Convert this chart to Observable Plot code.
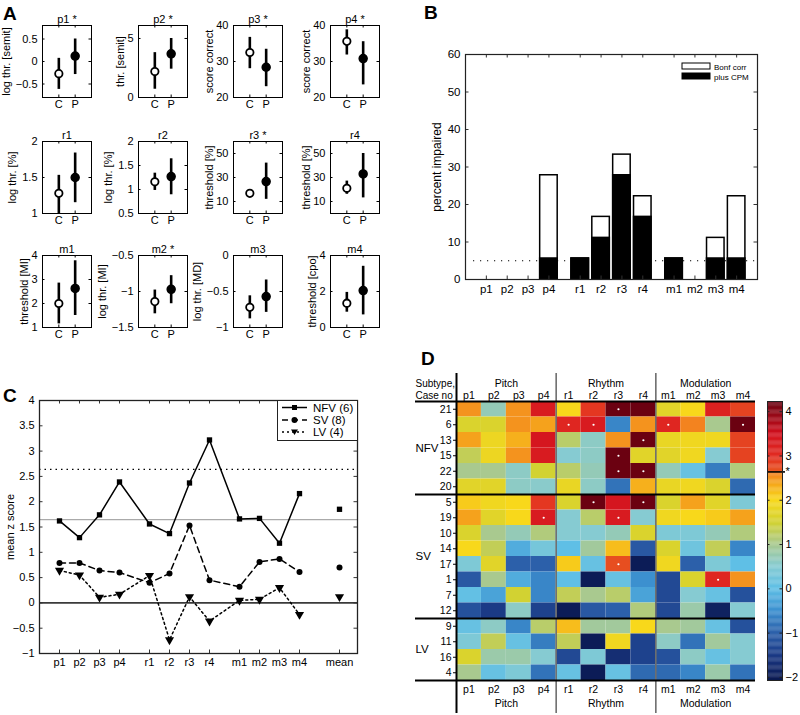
<!DOCTYPE html>
<html><head><meta charset="utf-8">
<script src="https://cdn.jsdelivr.net/npm/d3@7"></script>
<script src="https://cdn.jsdelivr.net/npm/@observablehq/plot@0.6"></script>
<style>
body{margin:0;background:#fff;}
#root{position:relative;width:800px;height:715px;overflow:hidden;background:#fff;font-family:"Liberation Sans",Arial,Helvetica,sans-serif;color:#000;}
.letter{position:absolute;font-weight:bold;font-size:19px;line-height:1;}
</style></head><body><div id="root"></div>
<script>
// ---------------- DATA ----------------
// Panel A
const aTitles = ["p1 *","p2 *","p3 *","p4 *","r1","r2","r3 *","r4","m1","m2 *","m3","m4"];
const aYLabels = ["log thr. [semit]","thr. [semit]","score correct","score correct","log thr. [%]","log thr. [%]","threshold [%]","threshold [%]","threshold [MI]","log thr. [MI]","log thr. [MD]","threshold [cpo]"];
const aDomains = [[-0.8,0.8],[0,6.1],[20,40],[20,40],[1,2],[0.5,2],[0,60],[0,60],[1,4],[-1.5,-0.5],[-1,0],[0,4]];
const aTicks = [[-0.5,0,0.5],[0,5],[20,30,40],[20,30,40],[1,1.5,2],[0.5,1,1.5,2],[10,30,50],[10,30,50],[1,2,3,4],[-1.5,-1,-0.5],[-1,-0.5,0],[0,2,4]];
const aCtrlMean = [-0.27, 2.2, 32.5, 35.6, 1.28, 1.16, 16.8, 21, 2.0, -1.14, -0.72, 1.35];
const aCtrlLo   = [-0.62, 0.7, 28.0, 31.8, 1.0, 0.98, 14.0, 16, 1.15, -1.31, -0.88, 0.85];
const aCtrlHi   = [0.07, 3.8, 36.7, 38.8, 1.53, 1.34, 18.8, 27, 2.85, -0.98, -0.56, 1.95];
const aPatMean  = [0.12, 3.7, 28.4, 30.8, 1.5, 1.27, 26.6, 33, 2.63, -0.97, -0.57, 2.05];
const aPatLo    = [-0.29, 2.4, 23.0, 23.5, 1.15, 0.89, 11.8, 13, 1.5, -1.17, -0.79, 0.7];
const aPatHi    = [0.5, 5.0, 33.4, 35.5, 1.84, 1.64, 42, 50, 3.78, -0.78, -0.34, 3.4];
const aGroupLabels = ["C","P"];

// Panel B
const bCats = ["p1","p2","p3","p4","r1","r2","r3","r4","m1","m2","m3","m4"];
const bBonf = [0,0,0,27.8,5.6,16.7,33.3,22.2,5.6,0,11.1,22.2];
const bCPM  = [0,0,0,5.6,5.6,11.1,27.8,16.7,5.6,0,5.6,5.6];
const bTicks = [0,10,20,30,40,50,60];
const bChance = 5;
const bLegend = ["Bonf corr","plus CPM"];

// Panel C
const cCats = ["p1","p2","p3","p4","r1","r2","r3","r4","m1","m2","m3","m4"];
const cNFV = [1.62,1.29,1.74,2.39,1.56,1.37,2.37,3.22,1.66,1.67,1.18,2.16];
const cSV  = [0.79,0.79,0.64,0.60,0.40,0.58,1.53,0.45,0.32,0.81,0.87,0.61];
const cLV  = [0.64,0.55,0.11,0.17,0.54,-0.73,0.12,-0.36,0.05,0.07,0.30,-0.23];
const cMeans = [1.85, 0.70, 0.12];
const cSeries = ["NFV (6)","SV (8)","LV (4)"];
const cTicks = [-1,-0.5,0,0.5,1,1.5,2,2.5,3,3.5,4];
const cRefLines = [1.645, 2.64];

// Panel D
const dCols = ["p1","p2","p3","p4","r1","r2","r3","r4","m1","m2","m3","m4"];
const dGroups = ["Pitch","Rhythm","Modulation"];
const dSubtypes = ["NFV","SV","LV"];
const dCasesNFV = ["21","6","13","15","22","20"];
const dCasesSV  = ["5","19","10","14","17","1","7","12"];
const dCasesLV  = ["9","11","16","4"];
const zNFV = [
 [2.5, 0.7, 2.5, 3.3, 2.0, 2.9, 4.2, 4.2, 1.7, 2.0, 3.2, 2.8],
 [1.6, 1.6, 2.5, 2.4, 3.1, 3.3, -0.6, 2.5, 3.1, 2.6, 1.0, 4.2],
 [2.4, 1.85, 2.3, 3.4, 1.2, 0.6, 2.5, 4.2, 1.8, 1.9, 1.9, 2.8],
 [1.3, 1.85, 2.5, 3.3, 0.5, 0.6, 4.2, 1.7, 1.7, 1.9, 0.5, 2.8],
 [1.0, 1.0, 0.6, 1.5, 1.2, 0.7, 4.2, 4.2, 0.7, 0.1, -0.7, 1.1],
 [1.7, 1.7, 0.6, 0.55, 1.8, 0.6, -0.8, 2.3, 1.8, 1.9, 1.6, -0.9]
];
const zSV = [
 [2.1, 1.9, 2.0, 2.9, 1.6, 4.2, 3.4, 4.2, 1.6, 2.4, 1.7, 0.4],
 [2.4, 1.7, 2.0, 3.3, 0.5, 1.2, 3.3, 0.5, 1.9, 2.0, 2.1, 2.4],
 [1.6, 1.0, 0.7, 1.1, 0.5, 0.5, 0.7, 1.6, 0.4, 0.4, 0.7, 1.1],
 [2.0, 1.3, -0.2, 0.3, 0.0, 0.9, 2.2, -1.1, 1.6, 0.2, 1.3, -0.6],
 [0.4, 1.7, -1.0, -1.0, 2.1, 0.1, 2.7, -2.0, 1.9, -1.0, 0.4, 0.0],
 [-1.1, 1.0, -0.2, -0.6, 0.0, -2.0, 0.1, -0.5, -1.3, 1.6, 3.1, 2.5],
 [0.05, -0.3, 1.5, -0.6, 1.3, 1.0, 1.2, -0.3, -1.3, 0.5, 0.1, -1.2],
 [-1.2, -1.5, 0.6, -1.4, -2.0, -1.1, -1.0, 1.1, -1.3, 0.8, -1.9, 0.5]
];
const zLV = [
 [0.1, 0.6, -0.6, 1.2, 2.2, 0.9, 0.9, 2.0, 1.0, 0.9, 0.1, -1.2],
 [0.4, 1.3, 0.1, -0.7, 1.3, -2.0, 1.9, -1.4, 0.6, -0.8, 0.9, 0.5],
 [1.6, 0.8, 0.8, 0.5, -1.3, 0.4, -1.7, -1.4, -1.2, 0.6, 0.1, 0.5],
 [1.0, 0.1, 0.4, -0.8, 0.1, -2.0, 0.1, -0.9, -0.9, -0.6, 0.8, -0.8]
];
// significant cells [row, column] (white dots)
const dSig = [[0,6],[1,4],[1,5],[1,8],[1,11],[2,7],[3,6],[4,6],[4,7],[6,5],[6,7],[7,3],[7,6],[10,6],[11,10]];
const cbTicks = [-2,-1,0,1,2,3,4];
const cbThreshold = 2.64;
const cbDomain = [-2.07, 4.23];
// colour map stops (value -> colour)
const cmStops = [-2.07,-1.5,-1.0,-0.5,0,0.5,1.0,1.5,2.0,2.4,2.64,2.6401,3.0,3.5,4.0,4.23];
const cmColors = ["#0a1850","#1b3a86","#2c60aa","#3c90cf","#5fbfe6","#86cbd2","#a9c98f","#d2d232","#f8d81b","#f5a21c","#f27d20","#e85520","#e22c22","#d2101e","#8a0816","#660010"];

// ---------------- HELPERS ----------------
const FONT = '"Liberation Sans", Arial, Helvetica, sans-serif';
const root = document.getElementById("root");
function place(node, left, top) { node.style.position = "absolute"; node.style.left = left + "px"; node.style.top = top + "px"; root.appendChild(node); }
const fmt = d => (d < 0 ? "\u2212" : "") + Math.abs(d);
function st(size) { return {fontFamily: FONT, fontSize: size + "px", color: "black", background: "none", overflow: "visible"}; }
function ticksX(vals, H, len, o = {}) { return [Plot.ruleX(vals, {x: d => d, insetTop: H - len, ...o}), Plot.ruleX(vals, {x: d => d, insetBottom: H - len, ...o})]; }
function ticksY(vals, W, len, o = {}) { return [Plot.ruleY(vals, {y: d => d, insetRight: W - len, ...o}), Plot.ruleY(vals, {y: d => d, insetLeft: W - len, ...o})]; }
function letter(t, left, top) { const d = document.createElement("div"); d.className = "letter"; d.textContent = t; d.style.left = left + "px"; d.style.top = top + "px"; root.appendChild(d); }
const cmap = d3.scaleLinear().domain(cmStops).range(cmColors).clamp(true);

// ---------------- PANEL A ----------------
const aColLeft = [42, 138, 233, 330], aRowTop = [25, 141, 255];
aTitles.forEach((title, i) => {
  const col = i % 4, row = Math.floor(i / 4);
  const W = 49, H = 72, ml = 48, mr = 4, mt = 22, mb = 18;
  const pts = [
    {x: 1, m: aCtrlMean[i], lo: aCtrlLo[i], hi: aCtrlHi[i]},
    {x: 2, m: aPatMean[i], lo: aPatLo[i], hi: aPatHi[i]}
  ];
  const maxLen = d3.max(aTicks[i], t => fmt(t).length);
  const svg = Plot.plot({
    width: W + ml + mr, height: H + mt + mb,
    marginLeft: ml, marginRight: mr, marginTop: mt, marginBottom: mb,
    style: st(11),
    x: {domain: [0, 3], axis: null, label: null},
    y: {domain: aDomains[i], axis: null, label: null},
    marks: [
      ...ticksY(aTicks[i], W, 2.5),
      ...ticksX([1, 2], H, 2.5),
      Plot.axisY(aTicks[i], {tickSize: 0, tickPadding: 5, tickFormat: fmt, label: null}),
      Plot.axisX([1, 2], {tickSize: 0, tickPadding: 3, tickFormat: d => aGroupLabels[d - 1], label: null}),
      Plot.ruleX(pts, {x: "x", y1: "lo", y2: "hi", strokeWidth: 2.6}),
      Plot.dot(pts.slice(0, 1), {x: "x", y: "m", r: 3.7, fill: "white", stroke: "black", strokeWidth: 1.8}),
      Plot.dot(pts.slice(1), {x: "x", y: "m", r: 4, fill: "black", stroke: "black", strokeWidth: 1.5}),
      Plot.frame({stroke: "black", strokeWidth: 1}),
      Plot.text([title], {text: d => d, frameAnchor: "top", dy: -10}),
      Plot.text([aYLabels[i]], {text: d => d, frameAnchor: "left", textAnchor: "middle", dx: -(maxLen * 6 + 12), rotate: -90})
    ]
  });
  place(svg, aColLeft[col] - ml, aRowTop[row] - mt);
});
letter("A", 3, 4);

// ---------------- PANEL B ----------------
(function () {
  const bPos = bCats.map((c, i) => i + 1 + Math.floor(i / 4) * 0.5);
  const data = bCats.map((c, i) => ({c, pos: bPos[i], bonf: bBonf[i], cpm: bCPM[i]}));
  const W = 292, H = 225;
  const svg = Plot.plot({
    width: 440, height: 330, marginLeft: 105, marginRight: 43, marginTop: 54, marginBottom: 51,
    style: st(11.5),
    x: {domain: [0, 14], axis: null, label: null},
    y: {domain: [0, 60], axis: null, label: null},
    marks: [
      Plot.ruleY([bChance], {y: d => d, strokeDasharray: "1.2,5.8", strokeWidth: 1.2, insetLeft: 8}),
      Plot.rect(data.filter(d => d.bonf > 0), {x1: d => d.pos - 0.42, x2: d => d.pos + 0.42, y1: 0, y2: "bonf", fill: "white", stroke: "black", strokeWidth: 1.5}),
      Plot.rect(data.filter(d => d.cpm > 0), {x1: d => d.pos - 0.42, x2: d => d.pos + 0.42, y1: 0, y2: "cpm", fill: "black", stroke: "black", strokeWidth: 1.5}),
      ...ticksX(bPos, H, 3.5, {stroke: "#333"}),
      ...ticksY(bTicks, W, 3.5, {stroke: "#333"}),
      Plot.axisY(bTicks, {tickSize: 0, tickPadding: 5, label: null}),
      Plot.axisX(bPos, {tickSize: 0, tickPadding: 5, tickFormat: d => bCats[bPos.indexOf(d)], label: null}),
      Plot.frame({stroke: "#222", strokeWidth: 1.2}),
      Plot.text(["percent impaired"], {text: d => d, frameAnchor: "left", textAnchor: "middle", dx: -28, rotate: -90, fontSize: 12})
    ]
  });
  place(svg, 360, 0);
  // legend
  const lg = document.createElementNS("http://www.w3.org/2000/svg", "svg");
  lg.setAttribute("width", 90); lg.setAttribute("height", 24);
  lg.innerHTML =
    `<rect x="1" y="1" width="28" height="6" fill="white" stroke="black" stroke-width="1"/>` +
    `<rect x="1" y="11" width="28" height="6" fill="black" stroke="black" stroke-width="1"/>` +
    `<text x="33" y="7.5" font-size="8" font-family='${FONT}'>${bLegend[0]}</text>` +
    `<text x="33" y="17.5" font-size="8" font-family='${FONT}'>${bLegend[1]}</text>`;
  place(lg, 681, 62);
})();
letter("B", 424, 3);

// ---------------- PANEL C ----------------
(function () {
  const cPos = cCats.map((c, i) => i + 1 + Math.floor(i / 4) * 0.5);
  const meanPos = 15;
  const series = [cNFV, cSV, cLV].map(vals => vals.map((v, i) => ({x: cPos[i], v})));
  const means = cMeans.map(v => ({x: meanPos, v}));
  const W = 318, H = 253;
  const allPos = [...cPos, meanPos];
  const labels = [...cCats, "mean"];
  const dash = [null, "6,4", "2,3"];
  const svg = Plot.plot({
    width: 430, height: 385, marginLeft: 39, marginRight: 73, marginTop: 70, marginBottom: 62,
    style: st(11),
    x: {domain: [0, 15.9], axis: null, label: null},
    y: {domain: [-1, 4], axis: null, label: null},
    marks: [
      Plot.ruleY([0], {y: d => d, stroke: "#3a3a3a", strokeWidth: 1.6}),
      Plot.ruleY([cRefLines[0]], {y: d => d, stroke: "#aaaaaa", strokeWidth: 1.1}),
      Plot.ruleY([cRefLines[1]], {y: d => d, stroke: "black", strokeDasharray: "1.5,4", strokeWidth: 1.3}),
      ...series.map((s, k) => Plot.line(s, {x: "x", y: "v", stroke: "black", strokeWidth: 1.5, strokeDasharray: dash[k]})),
      Plot.dot(series[0].concat(means.slice(0, 1)), {x: "x", y: "v", symbol: "square", r: 3, fill: "black"}),
      Plot.dot(series[1].concat(means.slice(1, 2)), {x: "x", y: "v", symbol: "circle", r: 3, fill: "black"}),
      Plot.dot(series[2].concat(means.slice(2, 3)), {x: "x", y: "v", symbol: "triangle", r: 3.4, rotate: 180, fill: "black"}),
      ...ticksX(allPos, H, 3.5, {stroke: "#333"}),
      ...ticksY(cTicks, W, 3.5, {stroke: "#333"}),
      Plot.axisY(cTicks, {tickSize: 0, tickPadding: 5, tickFormat: fmt, label: null}),
      Plot.axisX(allPos, {tickSize: 0, tickPadding: 5, tickFormat: d => labels[allPos.indexOf(d)], label: null}),
      Plot.frame({stroke: "#222", strokeWidth: 1.3}),
      Plot.text(["mean z score"], {text: d => d, frameAnchor: "left", textAnchor: "middle", dx: -29, rotate: -90})
    ]
  });
  place(svg, 0, 330);
  // legend box
  const lg = document.createElementNS("http://www.w3.org/2000/svg", "svg");
  lg.setAttribute("width", 81); lg.setAttribute("height", 41);
  const rowsY = [7.5, 20, 32];
  const markers = [
    y => `<rect x="15" y="${y - 2.5}" width="5" height="5" fill="black"/>`,
    y => `<circle cx="17.5" cy="${y}" r="3" fill="black"/>`,
    y => `<path d="M14,${y - 2.5} L21,${y - 2.5} L17.5,${y + 3} Z" fill="black"/>`
  ];
  let html = `<rect x="0.5" y="0.5" width="80" height="40" fill="white" stroke="#222" stroke-width="1"/>`;
  cSeries.forEach((s, k) => {
    const y = rowsY[k];
    html += `<line x1="5" x2="30" y1="${y}" y2="${y}" stroke="black" stroke-width="1.5" ${dash[k] ? `stroke-dasharray="${dash[k]}"` : ""}/>`;
    html += markers[k](y);
    html += `<text x="36" y="${y + 4}" font-size="11.5" font-family='${FONT}'>${s}</text>`;
  });
  lg.innerHTML = html;
  place(lg, 277, 400);
})();
letter("C", 3, 386);

// ---------------- PANEL D ----------------
(function () {
  const cases = [...dCasesNFV, ...dCasesSV, ...dCasesLV];
  const z = [...zNFV, ...zSV, ...zLV];
  const cells = [];
  z.forEach((row, r) => row.forEach((v, c) => cells.push({r, c, v})));
  const sig = dSig.map(([r, c]) => ({r, c}));
  const counts = [dCasesNFV.length, dCasesSV.length, dCasesLV.length];
  const bounds = [0, counts[0], counts[0] + counts[1], counts[0] + counts[1] + counts[2]];
  const subCenters = dSubtypes.map((s, k) => (bounds[k] + bounds[k + 1]) / 2);
  const nCol = dCols.length, nRow = cases.length;
  const colT = d3.range(nCol).map(i => i + 0.5);
  const rowT = d3.range(nRow).map(i => i + 0.5);
  const svg = Plot.plot({
    width: 390, height: 385, marginLeft: 46, marginRight: 45, marginTop: 71, marginBottom: 35,
    style: st(10.5),
    color: {type: "identity"},
    x: {domain: [0, nCol], axis: null, label: null},
    y: {domain: [nRow, 0], axis: null, label: null},
    marks: [
      Plot.rect(cells, {x1: "c", x2: d => d.c + 1, y1: "r", y2: d => d.r + 1, fill: d => cmap(d.v)}),
      Plot.dot(sig, {x: d => d.c + 0.5, y: d => d.r + 0.5, r: 1.1, fill: "white"}),
      Plot.ruleX([4, 8], {x: d => d, stroke: "#6e6e6e", strokeWidth: 1.6, insetTop: -28, insetBottom: -33}),
      Plot.ruleX([0], {x: d => d, stroke: "black", strokeWidth: 2, insetTop: -28, insetBottom: -33}),
      Plot.ruleY(bounds, {y: d => d, stroke: "black", strokeWidth: 2, insetLeft: -41}),
      Plot.axisY(rowT, {tickSize: 3, tickPadding: 2, tickFormat: d => cases[Math.floor(d)], label: null}),
      Plot.axisX(colT, {anchor: "top", tickSize: 0, tickPadding: 3, tickFormat: d => dCols[Math.floor(d)], label: null}),
      Plot.axisX(colT, {anchor: "bottom", tickSize: 0, tickPadding: 5, tickFormat: d => dCols[Math.floor(d)], label: null}),
      Plot.text(dGroups, {text: d => d, x: d => dGroups.indexOf(d) * 4 + 2, frameAnchor: "top", dy: -22}),
      Plot.text(dGroups, {text: d => d, x: d => dGroups.indexOf(d) * 4 + 2, frameAnchor: "bottom", dy: 26}),
      Plot.text(dSubtypes, {text: d => d, y: d => subCenters[dSubtypes.indexOf(d)], frameAnchor: "left", dx: -41, textAnchor: "start", fontSize: 11.5}),
      Plot.text(["Subtype,\nCase no"], {text: d => d, frameAnchor: "top-left", dx: -41, dy: -3, textAnchor: "start", lineAnchor: "bottom", lineHeight: 1.15, fontSize: 10})
    ]
  });
  place(svg, 410, 330);

  // colour bar
  const step = 0.02;
  const slices = d3.range(cbDomain[0], cbDomain[1], step);
  const W = 15;
  const cb = Plot.plot({
    width: 60, height: 385, marginLeft: 28, marginRight: 17, marginTop: 71, marginBottom: 35,
    style: st(11),
    color: {type: "identity"},
    x: {domain: [0, 1], axis: null, label: null},
    y: {domain: cbDomain, axis: null, label: null},
    marks: [
      Plot.rect(slices, {x1: 0, x2: 1, y1: d => d, y2: d => Math.min(d + step * 1.3, cbDomain[1]), fill: d => cmap(d + step / 2)}),
      ...ticksY(cbTicks, W, 2.5, {stroke: "#222"}),
      Plot.ruleY([cbThreshold], {y: d => d, stroke: "black", strokeWidth: 1.6, insetRight: -3}),
      Plot.axisY([...cbTicks, cbThreshold], {anchor: "right", tickSize: 0, tickPadding: 3, tickFormat: d => d === cbThreshold ? "*" : fmt(d), label: null}),
      Plot.frame({stroke: "#222", strokeWidth: 1})
    ]
  });
  place(cb, 739, 330);
})();
letter("D", 421, 349);
</script></body></html>
